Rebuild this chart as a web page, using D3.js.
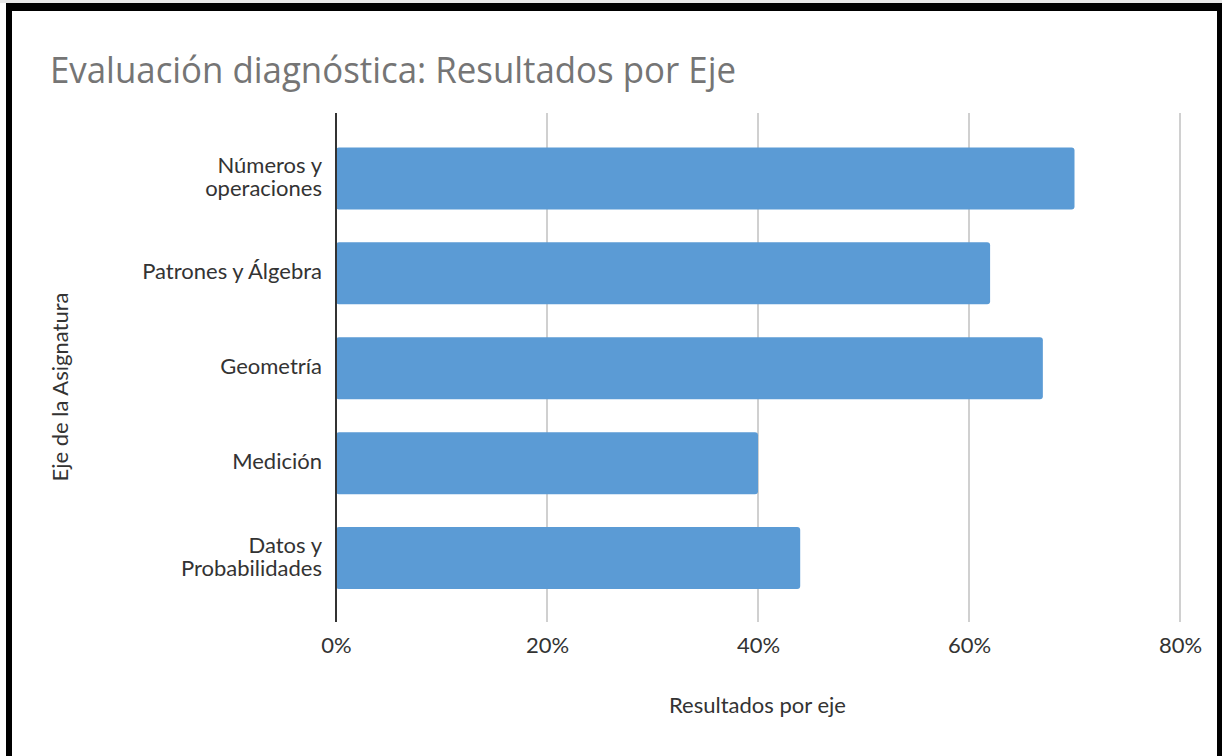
<!DOCTYPE html>
<html><head><meta charset="utf-8">
<script src="https://cdn.jsdelivr.net/npm/d3@7"></script>
<style>html,body{margin:0;padding:0;background:#fff;overflow:hidden}</style>
</head><body>
<svg id="c" width="1222" height="756"></svg>
<script>
const categories = [["Números y","operaciones"],["Patrones y Álgebra"],["Geometría"],["Medición"],["Datos y","Probabilidades"]];
const values = [0.70, 0.62, 0.67, 0.40, 0.44];
const tickValues = [0, 0.2, 0.4, 0.6, 0.8];
const tickLabels = ["0%","20%","40%","60%","80%"];

const svg = d3.select("#c");
const font = "'Open Sans', 'Noto Sans', sans-serif";
const lfont = "Lato, 'Open Sans', sans-serif";
const fs = 22;
svg.append("rect").attr("width",1222).attr("height",756).attr("fill","#fff");

const x = d3.scaleLinear().domain([0,0.8]).range([336,1180]);
const keys = categories.map((c,i)=>i);
const y = d3.scaleBand().domain(keys).range([131,605.5]).paddingInner(0.347).paddingOuter(0.1735);

// gridlines
const gTop = 113, gBot = 622;
svg.append("g").selectAll("line").data(tickValues.slice(1)).join("line")
  .attr("x1",d=>x(d)).attr("x2",d=>x(d)).attr("y1",gTop).attr("y2",gBot)
  .attr("stroke","#d0d0d0").attr("stroke-width",2);

// bars
svg.append("g").selectAll("rect").data(values).join("rect")
  .attr("x",x(0)).attr("y",(d,i)=>y(i)).attr("width",d=>x(d)-x(0)).attr("height",y.bandwidth())
  .attr("rx",3).attr("ry",3).attr("fill","#5b9bd5");

// zero axis line
svg.append("line").attr("x1",x(0)).attr("x2",x(0)).attr("y1",gTop).attr("y2",gBot)
  .attr("stroke","#333").attr("stroke-width",2);

// x axis tick labels
const xAxis = d3.axisBottom(x).tickValues(tickValues).tickFormat((d,i)=>tickLabels[i]).tickSize(0).tickPadding(0);
const gx = svg.append("g").attr("transform",`translate(0,${gBot})`).call(xAxis);
gx.select(".domain").remove();
gx.selectAll("text").attr("dy",null).attr("y",31).attr("font-family",lfont).attr("font-size",fs).attr("fill","#333");

// y axis labels
const yl = svg.append("g");
categories.forEach((lines,i)=>{
  const cy = y(i)+y.bandwidth()/2;
  const lh = 23;
  const t = yl.append("text").attr("text-anchor","end").attr("font-family",lfont).attr("font-size",fs).attr("fill","#333");
  lines.forEach((ln,j)=>{
    t.append("tspan").attr("x",322).attr("y",cy + 6 + (j-(lines.length-1)/2)*lh).text(ln);
  });
});

// axis titles
svg.append("text").attr("x",757.5).attr("y",713).attr("text-anchor","middle")
  .attr("font-family",lfont).attr("font-size",fs).attr("fill","#333").text("Resultados por eje");
svg.append("text").attr("transform","translate(68,387) rotate(-90)").attr("text-anchor","middle")
  .attr("font-family",lfont).attr("font-size",fs).attr("fill","#333").text("Eje de la Asignatura");

// title
svg.append("text").attr("x",50).attr("y",83).attr("font-family",font).attr("font-size",36)
  .attr("fill","#757575").attr("textLength",686).attr("lengthAdjust","spacingAndGlyphs")
  .text("Evaluación diagnóstica: Resultados por Eje");

// frame
svg.append("rect").attr("x",0).attr("y",0).attr("width",1222).attr("height",3).attr("fill","#e8e8e8");
svg.append("rect").attr("x",6).attr("y",3).attr("width",1216).attr("height",8).attr("fill","#000");
svg.append("rect").attr("x",6).attr("y",3).attr("width",6).attr("height",753).attr("fill","#000");
svg.append("rect").attr("x",1217).attr("y",3).attr("width",5).attr("height",753).attr("fill","#000");
</script>
</body></html>
